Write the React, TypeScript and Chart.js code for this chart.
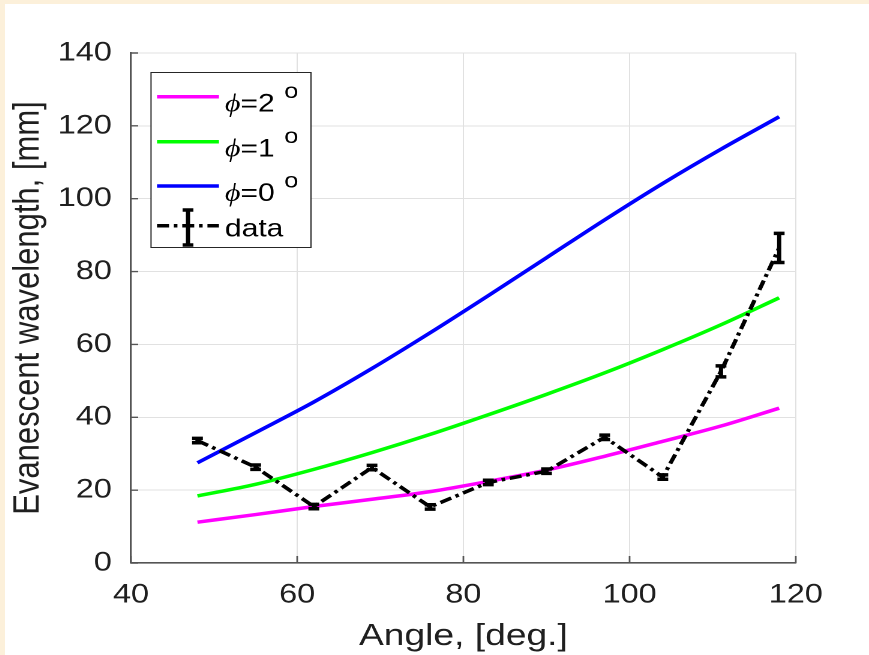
import React, { useEffect, useRef } from "react";
import { Chart, registerables } from "chart.js";

Chart.register(...registerables);

// ---- data ----
const angles = [48, 55, 62, 69, 76, 83, 90, 97, 104, 111, 118];
const phi2Vals = [11.2, 13.3, 15.5, 17.5, 19.6, 22.4, 25.5, 29.3, 33.4, 37.6, 42.5];
const phi1Vals = [18.4, 21.6, 25.7, 30.3, 35.3, 40.7, 46.3, 52.2, 58.6, 65.4, 72.8];
const phi0Vals = [27.5, 35.8, 44.2, 53.4, 63.2, 73.4, 83.8, 94.2, 104.2, 113.6, 122.5];
const dataVals = [33.6, 26.3, 15.5, 26.2, 15.4, 22.1, 25.2, 34.5, 23.6, 52.6, 86.5];
const dataErr = [0.6, 0.6, 0.6, 0.6, 0.6, 0.6, 0.6, 0.6, 0.6, 1.5, 4.0];

const phiLabels = ["2", "1", "0"];
const phiColors = ["#ff00ff", "#00ff00", "#0000ff"];
const dataLabel = "data";
const xTitle = "Angle, [deg.]";
const yTitle = "Evanescent wavelength, [mm]";
const xMin = 40, xMax = 120, xStep = 20;
const yMin = 0, yMax = 140, yStep = 20;

// ---- layout (logical canvas units; canvas is stretched horizontally) ----
const CW = 720;
const CH = 651;
const SANS = "'Liberation Sans', Arial, Helvetica, sans-serif";
const SERIF = "'Liberation Serif', 'DejaVu Serif', 'Times New Roman', serif";
const TEXT = "#1f1f1f";
const DASH = [10, 4, 3, 4];
const LW = 3.5;

export default function App() {
  const ref = useRef<HTMLCanvasElement | null>(null);

  useEffect(() => {
    const canvas = ref.current;
    if (!canvas) return;

    const errorBars = {
      id: "errorBars",
      afterDatasetsDraw(chart: any) {
        const { ctx } = chart;
        const xs = chart.scales.x;
        const ys = chart.scales.y;
        ctx.save();
        ctx.strokeStyle = "#000";
        ctx.lineWidth = LW;
        ctx.setLineDash([]);
        const cap = 4.5;
        angles.forEach((a, i) => {
          const px = xs.getPixelForValue(a);
          const top = ys.getPixelForValue(dataVals[i] + dataErr[i]);
          const bot = ys.getPixelForValue(dataVals[i] - dataErr[i]);
          ctx.beginPath();
          ctx.moveTo(px, top);
          ctx.lineTo(px, bot);
          ctx.moveTo(px - cap, top);
          ctx.lineTo(px + cap, top);
          ctx.moveTo(px - cap, bot);
          ctx.lineTo(px + cap, bot);
          ctx.stroke();
        });
        ctx.restore();
      },
    };

    const inwardTicks = {
      id: "inwardTicks",
      afterDraw(chart: any) {
        const { ctx, chartArea } = chart;
        const xs = chart.scales.x;
        const ys = chart.scales.y;
        ctx.save();
        ctx.strokeStyle = "#555";
        ctx.lineWidth = 1.4;
        ctx.beginPath();
        ys.ticks.forEach((t: any) => {
          const py = ys.getPixelForValue(t.value);
          ctx.moveTo(chartArea.left, py);
          ctx.lineTo(chartArea.left + 6, py);
        });
        xs.ticks.forEach((t: any) => {
          const px = xs.getPixelForValue(t.value);
          ctx.moveTo(px, chartArea.bottom);
          ctx.lineTo(px, chartArea.bottom - 7);
        });
        ctx.stroke();
        ctx.restore();
      },
    };

    const legendBox = {
      id: "legendBox",
      afterDraw(chart: any) {
        const { ctx } = chart;
        const bx = 121.7, by = 68, bw = 133.3, bh = 175;
        ctx.save();
        ctx.fillStyle = "#fff";
        ctx.fillRect(bx, by, bw, bh);
        ctx.strokeStyle = "#262626";
        ctx.lineWidth = 1;
        ctx.strokeRect(bx, by + 0.5, bw, bh);
        const lx0 = 126.7, lx1 = 178.3, tx = 183.3;
        const rowsY = [92.7, 137.7, 182];
        phiLabels.forEach((lab, i) => {
          const ly = rowsY[i];
          ctx.strokeStyle = phiColors[i];
          ctx.lineWidth = LW;
          ctx.setLineDash([]);
          ctx.beginPath();
          ctx.moveTo(lx0, ly);
          ctx.lineTo(lx1, ly);
          ctx.stroke();
          ctx.fillStyle = "#000";
          ctx.textBaseline = "alphabetic";
          ctx.textAlign = "left";
          ctx.font = `italic 25px ${SERIF}`;
          ctx.fillText("\u03D5", tx, ly + 15);
          const w1 = ctx.measureText("\u03D5").width;
          ctx.font = `25px ${SANS}`;
          const s = "=" + lab;
          ctx.fillText(s, tx + w1, ly + 15);
          const w2 = ctx.measureText(s).width;
          ctx.font = `21px ${SANS}`;
          ctx.fillText("o", tx + w1 + w2 + 8, ly + 1.5);
        });
        // data row
        const dy = 221.7;
        ctx.strokeStyle = "#000";
        ctx.lineWidth = LW;
        ctx.setLineDash(DASH);
        ctx.beginPath();
        ctx.moveTo(lx0, dy);
        ctx.lineTo(lx1, dy);
        ctx.stroke();
        ctx.setLineDash([]);
        const ex = 152.5, e0 = 206, e1 = 241, cap = 4.5;
        ctx.beginPath();
        ctx.moveTo(ex, e0);
        ctx.lineTo(ex, e1);
        ctx.moveTo(ex - cap, e0);
        ctx.lineTo(ex + cap, e0);
        ctx.moveTo(ex - cap, e1);
        ctx.lineTo(ex + cap, e1);
        ctx.stroke();
        ctx.fillStyle = "#000";
        ctx.font = `25px ${SANS}`;
        ctx.textBaseline = "alphabetic";
        ctx.fillText(dataLabel, tx, dy + 11);
        ctx.restore();
      },
    };

    const line = (vals: number[]) => angles.map((a, i) => ({ x: a, y: vals[i] }));

    const chart = new Chart(canvas, {
      type: "line",
      data: {
        datasets: [
          {
            label: dataLabel,
            data: line(dataVals),
            borderColor: "#000",
            borderWidth: LW,
            borderDash: DASH,
            pointRadius: 0,
            fill: false,
            order: 0,
          },
          {
            label: "phi=2",
            data: line(phi2Vals),
            borderColor: phiColors[0],
            borderWidth: LW,
            pointRadius: 0,
            fill: false,
            cubicInterpolationMode: "monotone",
            order: 3,
          },
          {
            label: "phi=1",
            data: line(phi1Vals),
            borderColor: phiColors[1],
            borderWidth: LW,
            pointRadius: 0,
            fill: false,
            cubicInterpolationMode: "monotone",
            order: 2,
          },
          {
            label: "phi=0",
            data: line(phi0Vals),
            borderColor: phiColors[2],
            borderWidth: LW,
            pointRadius: 0,
            fill: false,
            cubicInterpolationMode: "monotone",
            order: 1,
          },
        ],
      },
      options: {
        responsive: false,
        animation: false,
        devicePixelRatio: 2,
        layout: { padding: { top: 49, right: 61, left: 0, bottom: 0 } },
        plugins: { legend: { display: false }, tooltip: { enabled: false } },
        scales: {
          x: {
            type: "linear",
            min: xMin,
            max: xMax,
            ticks: { stepSize: xStep, font: { family: SANS, size: 27 }, color: TEXT, padding: 16, maxRotation: 0 },
            grid: { color: "#e1e1e1", lineWidth: 1, drawTicks: false },
            border: { color: "#555", width: 1.6 },
            title: {
              display: true,
              text: xTitle,
              color: TEXT,
              font: { family: SANS, size: 31 },
              padding: { top: 0, bottom: 0 },
            },
            afterFit(s: any) {
              s.height = 92;
            },
          },
          y: {
            type: "linear",
            min: yMin,
            max: yMax,
            ticks: { stepSize: yStep, font: { family: SANS, size: 27 }, color: TEXT, padding: 16 },
            grid: { color: "#e1e1e1", lineWidth: 1, drawTicks: false },
            border: { color: "#555", width: 1.6 },
            title: {
              display: true,
              text: yTitle,
              color: TEXT,
              font: { family: SANS, size: 31 },
              padding: { top: 1, bottom: 0 },
            },
            afterFit(s: any) {
              s.width = 105;
            },
          },
        },
      },
      plugins: [errorBars, inwardTicks, legendBox],
    } as any);

    return () => chart.destroy();
  }, []);

  return (
    <div
      style={{
        position: "fixed",
        left: 0,
        top: 0,
        width: 869,
        height: 655,
        background: "#fcf0da",
        overflow: "hidden",
      }}
    >
      <canvas
        ref={ref}
        width={CW}
        height={CH}
        style={{ position: "absolute", left: 5, top: 4, width: 864, height: 651, background: "#fff" }}
      />
    </div>
  );
}
